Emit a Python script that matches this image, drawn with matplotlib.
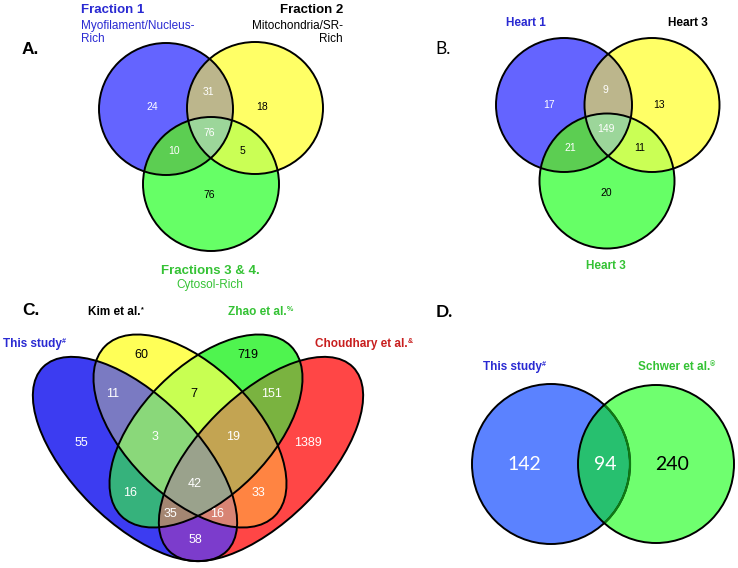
import numpy as np
import matplotlib
matplotlib.use('Agg')
import matplotlib.pyplot as plt
from matplotlib.patches import Ellipse
from matplotlib.colors import to_rgba

## Data
a_labels = ['Fraction 1', 'Fraction 2', 'Fractions 3 & 4.']
a_sublabels = [['Myofilament/Nucleus-', 'Rich'], ['Mitochondria/SR-', 'Rich'], ['Cytosol-Rich']]
a_regions = ['A', 'B', 'C', 'AB', 'AC', 'BC', 'ABC']
a_counts = [24, 18, 76, 31, 10, 5, 76]

b_labels = ['Heart 1', 'Heart 3', 'Heart 3']
b_regions = ['A', 'B', 'C', 'AB', 'AC', 'BC', 'ABC']
b_counts = [17, 13, 20, 9, 21, 11, 149]

c_labels = ['This study', 'Kim et al.', 'Zhao et al.', 'Choudhary et al.']
c_marks = ['#', '*', '%', '&']
c_regions = ['A', 'B', 'C', 'D', 'AB', 'AC', 'AD', 'BC', 'BD', 'CD',
             'ABC', 'ABD', 'ACD', 'BCD', 'ABCD']
c_counts = [55, 60, 719, 1389, 11, 16, 58, 7, 33, 151, 3, 16, 35, 19, 42]

d_labels = ['This study', 'Schwer et al.']
d_marks = ['#', '\u00ae']
d_regions = ['A', 'B', 'AB']
d_counts = [142, 240, 94]

## Layout (pixels, y down)
W, H = 738, 568
fig = plt.figure(figsize=(W / 100, H / 100), dpi=100)
ax = fig.add_axes([0, 0, 1, 1])
plt.rcParams['font.family'] = ['Liberation Sans', 'DejaVu Sans']

BLUE_T = '#2a2ad2'
GREEN_T = '#34c234'
RED_T = '#c81e1e'


def region_code(r):
    return sum(1 << 'ABCD'.index(ch) for ch in r)


def inside(X, Y, e):
    cx, cy, w, h, ang = e
    t = np.deg2rad(ang)
    dx, dy = X - cx, Y - cy
    u = dx * np.cos(t) + dy * np.sin(t)
    v = -dx * np.sin(t) + dy * np.cos(t)
    return (u / (w / 2)) ** 2 + (v / (h / 2)) ** 2 <= 1


def paint(shapes, fills, box, ss=3, outline=True):
    x0, x1, y0, y1 = box
    xs = x0 + (np.arange((x1 - x0) * ss) + 0.5) / ss
    ys = y0 + (np.arange((y1 - y0) * ss) + 0.5) / ss
    X, Y = np.meshgrid(xs, ys)
    code = np.zeros(X.shape, int)
    for i, e in enumerate(shapes):
        code |= inside(X, Y, e).astype(int) << i
    img = np.zeros(X.shape + (4,))
    for reg, col in fills.items():
        img[code == region_code(reg)] = to_rgba(col)
    ax.imshow(img, extent=(x0, x1, y1, y0), interpolation='antialiased', zorder=1)
    if outline:
        for e in shapes:
            ax.add_patch(Ellipse(e[:2], e[2], e[3], angle=e[4], fill=False,
                                 ec='black', lw=1.4, zorder=2))


def counts(regions, values, pos, white, size, family=None):
    for reg, val in zip(regions, values):
        x, y = pos[reg]
        kw = {'family': family} if family else {}
        ax.text(x, y, str(val), ha='center', va='center', fontsize=size,
                color='white' if reg in white else 'black', zorder=3, **kw)


def sup_label(x, y, s, mark, color, size, ha='left'):
    t = ax.text(x, y, s, ha=ha, va='baseline', fontsize=size, fontweight='bold',
                color=color, zorder=3)
    ax.annotate(mark, xy=(1, 1.0), xycoords=t, ha='left', va='top',
                fontsize=size * 0.6, fontweight='bold', color=color, zorder=3)


# ---- Panel A
a_shapes = [(166, 109, 134, 132, 0), (255, 108, 136, 132, 0), (211, 184, 136, 134, 0)]
a_fills = {'A': '#6464ff', 'B': '#ffff66', 'C': '#66ff66', 'AB': '#bcb68c',
           'AC': '#5ccf52', 'BC': '#caff55', 'ABC': '#9cd69a'}
paint(a_shapes, a_fills, (80, 340, 30, 262))
a_pos = {'A': (152, 107), 'AB': (208, 92), 'B': (262, 107), 'ABC': (209, 133),
         'AC': (174, 151), 'BC': (242, 151), 'C': (209, 195)}
counts(a_regions, a_counts, a_pos, ['A', 'AB', 'ABC', 'AC'], 7.5)

ax.text(22, 54, 'A.', fontsize=12.5, fontweight='bold', va='baseline')
ax.text(81, 13, a_labels[0], fontsize=9.5, fontweight='bold', color=BLUE_T, va='baseline')
ax.text(81, 29, a_sublabels[0][0], fontsize=8.5, color=BLUE_T, va='baseline')
ax.text(81, 42.5, a_sublabels[0][1], fontsize=8.5, color=BLUE_T, va='baseline')
ax.text(343, 13, a_labels[1], fontsize=9.5, fontweight='bold', ha='right', va='baseline')
ax.text(343, 29, a_sublabels[1][0], fontsize=8.5, ha='right', va='baseline')
ax.text(343, 42.5, a_sublabels[1][1], fontsize=8.5, ha='right', va='baseline')
ax.text(210, 274, a_labels[2], fontsize=9.5, fontweight='bold', color=GREEN_T,
        ha='center', va='baseline')
ax.text(210, 288, a_sublabels[2][0], fontsize=8.5, color=GREEN_T, ha='center', va='baseline')

# ---- Panel B
b_shapes = [(564, 105, 136, 134, 0), (652, 105, 135, 134, 0), (607, 181, 135, 135, 0)]
paint(b_shapes, a_fills, (480, 730, 30, 260))
b_pos = {'A': (549, 105), 'AB': (605, 90), 'B': (659, 105), 'ABC': (606, 129),
         'AC': (570, 148), 'BC': (640, 148), 'C': (606, 193)}
counts(b_regions, b_counts, b_pos, ['A', 'AB', 'ABC', 'AC'], 7.5)

ax.text(435, 54, 'B.', fontsize=12.5, family='Lato', va='baseline')
ax.text(526, 26.5, b_labels[0], fontsize=8.5, fontweight='bold', color=BLUE_T,
        ha='center', va='baseline')
ax.text(688, 26.5, b_labels[1], fontsize=8.5, fontweight='bold', ha='center', va='baseline')
ax.text(606, 269, b_labels[2], fontsize=8.5, fontweight='bold', color=GREEN_T,
        ha='center', va='baseline')

# ---- Panel C
c_shapes = [(135, 459, 260, 126, 45), (190, 431, 240, 130, 45),
            (206, 431, 240, 130, -45), (261, 459, 260, 126, -45)]
c_fills = {'A': '#3c3cf2', 'B': '#ffff58', 'C': '#50f550', 'D': '#ff4646',
           'AB': '#7a7ac2', 'AC': '#36b27c', 'AD': '#7c3ccc', 'BC': '#c8ff52',
           'BD': '#ff8442', 'CD': '#7ab440', 'ABC': '#8ad87a', 'ABD': '#d88474',
           'ACD': '#a48672', 'BCD': '#c4a452', 'ABCD': '#9aa28c'}
paint(c_shapes, c_fills, (20, 380, 325, 568))
c_pos = {'B': (141, 355), 'AB': (113, 394), 'BC': (194, 394), 'C': (248, 355),
         'CD': (271, 394), 'A': (81, 443), 'ABC': (155, 437), 'BCD': (233, 437),
         'D': (308, 443), 'AC': (130, 493), 'ABCD': (195, 484), 'BD': (258, 493),
         'ACD': (170, 514), 'ABD': (217, 514), 'AD': (195, 540)}
counts(c_regions, c_counts, c_pos, ['AB', 'A', 'ABC', 'BCD', 'CD', 'D', 'AC',
                                    'ABCD', 'BD', 'ACD', 'ABD', 'AD'], 9)

ax.text(22, 315, 'C.', fontsize=12.5, fontweight='bold', va='baseline')
sup_label(3, 347, c_labels[0], c_marks[0], BLUE_T, 8.5)
sup_label(88, 315, c_labels[1], c_marks[1], 'black', 8.5)
sup_label(228, 315, c_labels[2], c_marks[2], GREEN_T, 8.5)
sup_label(315, 347, c_labels[3], c_marks[3], RED_T, 8.5)

# ---- Panel D
d_shapes = [(551, 464, 158, 160, 0), (656, 464, 156, 158, 0)]
d_fills = {'A': '#5b82ff', 'B': '#70ff70', 'AB': '#28c070'}
paint(d_shapes, d_fills, (460, 738, 375, 555), outline=False)
blue_edge = Ellipse(d_shapes[0][:2], d_shapes[0][2], d_shapes[0][3], fill=False,
                    ec='black', lw=1.4, zorder=2)
ax.add_patch(blue_edge)
inner = Ellipse(d_shapes[1][:2], d_shapes[1][2], d_shapes[1][3], transform=ax.transData)
inner_edge = Ellipse(d_shapes[0][:2], d_shapes[0][2], d_shapes[0][3], fill=False,
                     ec='#0f7a14', lw=1.6, zorder=2.1)
ax.add_patch(inner_edge)
inner_edge.set_clip_path(inner)
ax.add_patch(Ellipse(d_shapes[1][:2], d_shapes[1][2], d_shapes[1][3], fill=False,
                     ec='black', lw=1.4, zorder=2.2))
d_pos = {'A': (524, 464), 'AB': (605, 464), 'B': (672, 464)}
counts(d_regions, d_counts, d_pos, ['A', 'AB'], 14, family='Lato')

ax.text(436, 317, 'D.', fontsize=12.5, fontweight='bold', family='Lato', va='baseline')
sup_label(483, 370, d_labels[0], d_marks[0], BLUE_T, 8.5)
sup_label(638, 370, d_labels[1], d_marks[1], GREEN_T, 8.5)

ax.set_xlim(0, W)
ax.set_ylim(H, 0)
ax.set_aspect('auto')
ax.axis('off')
fig.savefig('out.png', dpi=100)
